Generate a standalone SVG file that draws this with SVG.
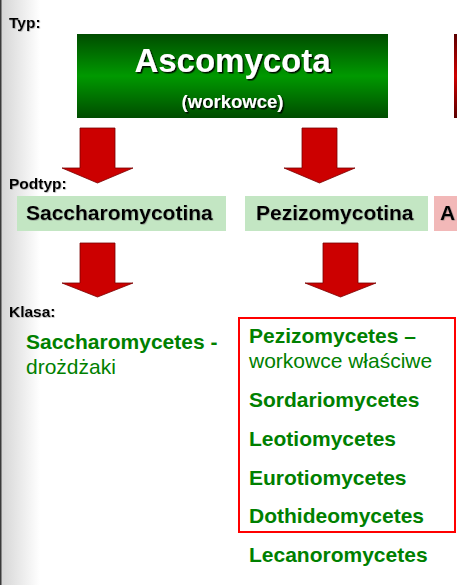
<svg xmlns="http://www.w3.org/2000/svg" width="457" height="585" viewBox="0 0 457 585">
<defs>
<linearGradient id="edge" x1="0" y1="0" x2="1" y2="0">
<stop offset="0" stop-color="#d4d4d4"/>
<stop offset="1" stop-color="#ffffff"/>
</linearGradient>
<linearGradient id="gbox" x1="0" y1="0" x2="0" y2="1">
<stop offset="0" stop-color="#004c00"/>
<stop offset="0.5" stop-color="#009900"/>
<stop offset="1" stop-color="#004c00"/>
</linearGradient>
<linearGradient id="rbox" x1="0" y1="0" x2="0" y2="1">
<stop offset="0" stop-color="#5a0000"/>
<stop offset="0.5" stop-color="#d00000"/>
<stop offset="1" stop-color="#5a0000"/>
</linearGradient>
<filter id="sh" x="-10%" y="-10%" width="130%" height="140%">
<feDropShadow dx="1.5" dy="1.5" stdDeviation="0.4" flood-color="#000" flood-opacity="0.9"/>
</filter>
<filter id="sh2" x="-10%" y="-10%" width="130%" height="140%">
<feDropShadow dx="0.6" dy="0.6" stdDeviation="0.4" flood-color="#666" flood-opacity="0.6"/>
</filter>
</defs>
<style>
text{font-family:"Liberation Sans",Arial,sans-serif}
.lbl{font-size:15.5px;font-weight:bold;fill:#000}
.sub{font-size:21px;font-weight:bold;fill:#000}
.cls{font-size:21px;font-weight:bold;fill:#008000}
.clsn{font-size:21px;font-weight:normal;fill:#008000}
.arr{fill:#cc0000;stroke:#7a0000;stroke-width:0.8}
</style>
<rect width="457" height="585" fill="#ffffff"/>
<rect x="0" y="0" width="40" height="585" fill="url(#edge)"/>
<rect x="0" y="0" width="1.5" height="585" fill="#3a3a3a"/>

<g id="labels">
<text class="lbl" x="9" y="28" filter="url(#sh2)">Typ:</text>
<text class="lbl" x="9" y="189" filter="url(#sh2)">Podtyp:</text>
<text class="lbl" x="9" y="317" filter="url(#sh2)">Klasa:</text>
</g>

<g id="ascomycota">
<rect x="77" y="34" width="311" height="84" fill="url(#gbox)"/>
<text x="232.5" y="72" text-anchor="middle" font-size="33" font-weight="bold" fill="#ffffff" filter="url(#sh)">Ascomycota</text>
<text x="232.5" y="108" text-anchor="middle" font-size="18.5" font-weight="bold" fill="#ffffff" filter="url(#sh)">(workowce)</text>
</g>

<g id="other-type">
<rect x="454" y="34" width="3" height="84" fill="url(#rbox)"/>
</g>

<g id="connectors">
<polygon class="arr" points="80,128 115,128 115,168 133,168 97.5,183 62,168 80,168"/>
<polygon class="arr" points="302,128 337,128 337,168 355,168 319.5,183 284,168 302,168"/>
<polygon class="arr" points="80,243 115,243 115,283 133,283 97.5,297 62,283 80,283"/>
<polygon class="arr" points="323,243 358,243 358,283 376,283 340.5,297 305,283 323,283"/>
</g>

<g id="saccharomycotina">
<rect x="17" y="196" width="209" height="35" fill="#c3e6c3"/>
<text class="sub" x="26" y="220" filter="url(#sh2)">Saccharomycotina</text>
</g>

<g id="pezizomycotina">
<rect x="245" y="196" width="183" height="35" fill="#c3e6c3"/>
<text class="sub" x="256" y="220" filter="url(#sh2)">Pezizomycotina</text>
</g>

<g id="other-subtype">
<rect x="434" y="196" width="23" height="35" fill="#f2b8b8"/>
<text class="sub" x="440" y="220" filter="url(#sh2)">A</text>
</g>

<g id="saccharomycetes">
<text class="cls" x="26" y="349">Saccharomycetes -</text>
<text class="clsn" x="26" y="374">drożdżaki</text>
</g>

<g id="pezizomycotina-classes">
<rect x="239" y="318" width="216" height="214" fill="none" stroke="#ff0000" stroke-width="2"/>
<text class="cls" x="249" y="343">Pezizomycetes –</text>
<text class="clsn" x="249" y="368">workowce właściwe</text>
<text class="cls" x="249" y="407">Sordariomycetes</text>
<text class="cls" x="249" y="446">Leotiomycetes</text>
<text class="cls" x="249" y="485">Eurotiomycetes</text>
<text class="cls" x="249" y="523">Dothideomycetes</text>
</g>

<g id="lecanoromycetes">
<text class="cls" x="249" y="562">Lecanoromycetes</text>
</g>
</svg>
